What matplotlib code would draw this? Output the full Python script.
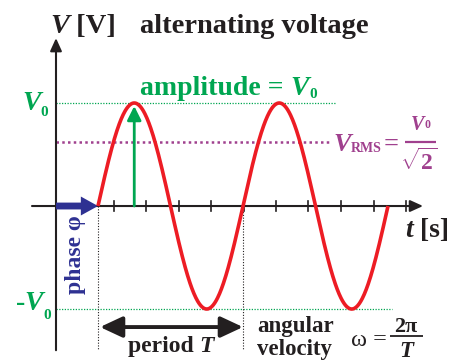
import numpy as np
import matplotlib
matplotlib.use("Agg")
import matplotlib.pyplot as plt
from matplotlib.patches import FancyArrowPatch
from matplotlib.lines import Line2D
from matplotlib.transforms import IdentityTransform

plt.rcParams['mathtext.fontset'] = 'custom'
plt.rcParams['mathtext.rm'] = 'Liberation Serif:bold'
plt.rcParams['mathtext.it'] = 'Liberation Serif:italic:bold'
plt.rcParams['mathtext.bf'] = 'Liberation Serif:bold'
plt.rcParams['mathtext.sf'] = 'Liberation Serif:bold'
plt.rcParams['font.family'] = ['Liberation Serif', 'DejaVu Serif']

# ---- data ----
phase = 42.0          # start of the wave (time units)
period = 145.0        # period T
n_periods = 2
V0 = 1.0              # amplitude
V_rms_level = 0.62    # level of the RMS line as drawn
tick_t = [26, 58, 90, 123, 155, 188, 220, 252, 285, 318, 350]
t_axis = [-24, 367]   # horizontal axis extent
v_axis = [-1.40, 1.63]  # vertical axis extent

# ---- colours ----
RED = '#ED1C24'
GREEN = '#00A651'
BLUE = '#2E3192'
PURPLE = '#A0408E'
BLACK = '#231F20'

W, H = 463, 363
fig = plt.figure(figsize=(W / 100, H / 100), dpi=100)
ax = fig.add_axes([0, 0, 1, 1])
ax.set_xlim(-56, 407)
ax.set_ylim(-1.524, 2.0)
ax.axis('off')
R = fig.canvas.get_renderer()

# dotted guide lines
ax.plot([0, 279], [V0, V0], ls=(0, (1, 1.2)), color=GREEN, lw=0.9, zorder=1)
ax.plot([0, 336], [-V0, -V0], ls=(0, (1, 1.2)), color=GREEN, lw=0.9, zorder=1)
ax.plot([0, 274], [V_rms_level, V_rms_level], ls=(0, (1, 1.3)), color=PURPLE, lw=1.8, zorder=1)
for tv in [phase, phase + period]:
    ax.plot([tv, tv], [0, v_axis[0]], ls=(0, (1, 1.5)), color=BLACK, lw=0.8, zorder=1)

# axes
ax.add_patch(FancyArrowPatch((t_axis[0], 0), (t_axis[1], 0),
                             arrowstyle='-|>,head_length=0.55,head_width=0.25',
                             mutation_scale=14, color=BLACK, lw=1.5, zorder=2,
                             shrinkA=0, shrinkB=0))
ax.add_patch(FancyArrowPatch((0, v_axis[0]), (0, v_axis[1]),
                             arrowstyle='-|>,head_length=0.55,head_width=0.25',
                             mutation_scale=14, color=BLACK, lw=1.5, zorder=2,
                             shrinkA=0, shrinkB=0))
for tk in tick_t:
    ax.plot([tk, tk], [-0.045, 0.045], color=BLACK, lw=1.2, zorder=2)

# sine wave
t = np.linspace(phase, phase + n_periods * period, 600)
v = V0 * np.sin(2 * np.pi * (t - phase) / period)
ax.plot(t, v, color=RED, lw=2.6, zorder=4, solid_capstyle='butt')

# amplitude arrow
t_peak = phase + period / 4
ax.add_patch(FancyArrowPatch((t_peak, 0), (t_peak, V0 * 0.97),
                             arrowstyle='-|>,head_length=0.6,head_width=0.3',
                             mutation_scale=14, color=GREEN, lw=2.0, zorder=3,
                             shrinkA=0, shrinkB=0))
# phase arrow
ax.add_patch(FancyArrowPatch((0, 0), (phase, 0),
                             arrowstyle='simple,head_length=0.95,head_width=1.05,tail_width=0.38',
                             mutation_scale=13, color=BLUE, lw=0, zorder=3,
                             shrinkA=0, shrinkB=0))
# period arrow
y_per = -1.175
ax.add_patch(FancyArrowPatch((phase + 2, y_per), (phase + period, y_per),
                             arrowstyle='<|-|>,head_length=0.75,head_width=0.35',
                             mutation_scale=18, color=BLACK, lw=2.8, zorder=3,
                             shrinkA=0, shrinkB=0))


# ---- text helpers (pixel positions, y measured from top) ----
def put(x, y, s, size, color, style='normal', weight='bold', ha='left', va='baseline', **kw):
    return fig.text(x, H - y, s, transform=IdentityTransform(), fontsize=size, color=color,
                    fontstyle=style, fontweight=weight, fontfamily=['Liberation Serif', 'DejaVu Serif'],
                    ha=ha, va=va, **kw)


def chain(x, y, pieces, color, align='left'):
    """pieces: (text, size, style, weight, dy)"""
    arts, cur = [], x
    for s, size, style, weight, dy in pieces:
        tx = put(cur, y + dy, s, size, color, style, weight)
        cur = tx.get_window_extent(R).x1
        arts.append(tx)
    width = cur - x
    shift = {'left': 0, 'center': width / 2, 'right': width}[align]
    if shift:
        for tx in arts:
            px, py = tx.get_position()
            tx.set_position((px - shift, py))
    return width


def hbar(x0, x1, y, color, lw):
    fig.add_artist(Line2D([x0, x1], [H - y, H - y], transform=IdentityTransform(),
                          color=color, lw=lw, solid_capstyle='butt'))


# title & axis labels
chain(50, 33, [('V', 20.5, 'italic', 'bold', 0), (' [V]', 20.5, 'normal', 'bold', 0)], BLACK)
put(140, 33, 'alternating voltage', 20.5, BLACK)
chain(405, 237, [('t', 20, 'italic', 'bold', 0), (' [s]', 20, 'normal', 'bold', 0)], BLACK)

# amplitude labels
chain(140, 95, [('amplitude = ', 20, 'normal', 'bold', 0), ('V', 20, 'italic', 'bold', 0),
                ('0', 11, 'normal', 'bold', 3)], GREEN)
chain(48, 110, [('V', 20, 'italic', 'bold', 0), ('0', 11, 'normal', 'bold', 6)], GREEN, 'right')
chain(51, 310, [('-', 20, 'normal', 'bold', 0), ('V', 20, 'italic', 'bold', 0),
                ('0', 11, 'normal', 'bold', 9)], GREEN, 'right')

# RMS label
chain(333, 151, [('V', 19, 'italic', 'bold', 0), ('RMS', 10, 'normal', 'bold', 1)], PURPLE)
put(384, 151, '=', 19, PURPLE)
hbar(405, 436, 142, PURPLE, 1.6)
chain(421, 130, [('V', 14.5, 'italic', 'bold', 0), ('0', 8.5, 'normal', 'bold', -2)], PURPLE, 'center')
put(419, 170, r'$\sqrt{\mathbf{2}}$', 17, PURPLE, ha='center')

# phase
put(75, 255, 'phase φ', 17, BLUE, rotation=90, ha='center', va='center')

# period / angular velocity
chain(171, 352, [('period ', 17, 'normal', 'bold', 0), ('T', 17, 'italic', 'bold', 0)], BLACK, 'center')
put(257, 332, 'angular', 16.5, BLACK)
put(257, 355, 'velocity', 16.5, BLACK)
chain(351, 346, [('ω', 17.5, 'normal', 'normal', 0), (' =', 17.5, 'normal', 'normal', 0)], BLACK)
hbar(390, 423, 336, BLACK, 1.3)
put(406, 332, '2π', 16, BLACK, ha='center')
put(406, 357, 'T', 16.5, BLACK, style='italic', ha='center')

fig.savefig('out.png', dpi=100)
